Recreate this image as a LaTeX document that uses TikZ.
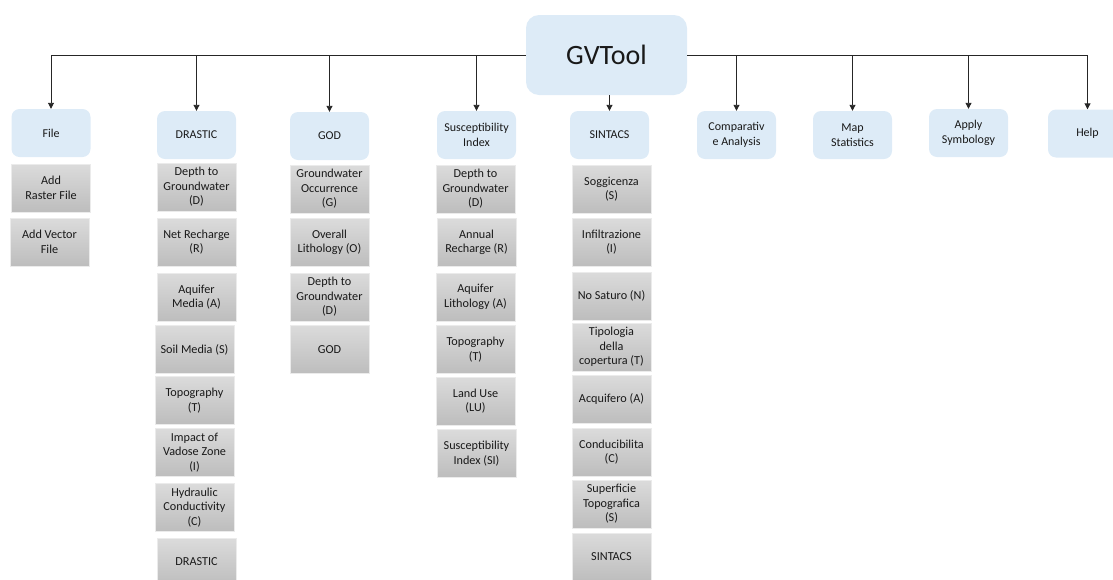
\documentclass[tikz,border=0pt]{standalone}
\usepackage{fontspec}
\setmainfont{Carlito}
\usepackage{tikz}
\usetikzlibrary{arrows.meta}

\definecolor{menublue}{HTML}{DDEBF7}
\definecolor{itemtop}{HTML}{DBDBDB}
\definecolor{itembot}{HTML}{BDBDBD}
\definecolor{linegray}{HTML}{262626}

\begin{document}
\begin{tikzpicture}[x=1pt,y=-1pt,
  menu/.style={fill=menublue,rounded corners=8pt,minimum width=79pt,minimum height=48pt,
    align=center,text=black!90,font=\fontsize{12}{14.5}\selectfont,inner sep=1pt},
  item/.style={top color=itemtop,bottom color=itembot,draw=black!8,line width=0.8pt,
    minimum width=79pt,minimum height=48pt,align=center,text=black!90,
    font=\fontsize{12.2}{14.6}\selectfont,inner sep=1pt},
  link/.style={draw=linegray,line width=0.9pt,-{Triangle[width=6pt,length=6pt]}}]

\useasboundingbox (0,0) rectangle (1113,579);
\clip (0,0) rectangle (1113,579);

% Root
\node[fill=menublue,rounded corners=13pt,minimum width=161pt,minimum height=80pt,
  font=\fontsize{28}{32}\selectfont,text=black!90] (gv) at (606.5,55) {GVTool};

% Menu entries
\node[menu] (file) at (51,133) {File};
\node[menu] (drastic) at (196.5,135) {DRASTIC};
\node[menu] (god) at (329.5,136) {GOD};
\node[menu] (susc) at (476.5,135) {Susceptibility\\Index};
\node[menu] (sintacs) at (609.5,135) {SINTACS};
\node[menu] (comp) at (736.5,135) {Comparativ\\e Analysis};
\node[menu] (mapstat) at (852.5,135) {Map\\Statistics};
\node[menu] (apply) at (968.5,133) {Apply\\Symbology};
\node[menu] (help) at (1087.5,133.5) {Help};

% Connectors
\draw[link] (gv.west) -| (file.north);
\draw[link] (gv.east) -| (help.north);
\foreach \m in {drastic,god,susc}
  \draw[link] (\m.north |- gv.west) -- (\m.north);
\foreach \m in {comp,mapstat,apply}
  \draw[link] (\m.north |- gv.east) -- (\m.north);
\draw[link] (sintacs.north |- gv.south) -- (sintacs.north);

% File
\node[item] (f1) at (51,188) {Add\\Raster File};
\node[item] (f2) at (49.5,242) {Add Vector\\File};

% DRASTIC
\node[item] (d1) at (196.5,187) {Depth to\\Groundwater\\(D)};
\node[item] (d2) at (196.5,242) {Net Recharge\\(R)};
\node[item] (d3) at (196.5,297) {Aquifer\\Media (A)};
\node[item] (d4) at (194.5,349.5) {Soil Media (S)};
\node[item] (d5) at (194.5,400.5) {Topography\\(T)};
\node[item] (d6) at (194.5,452.5) {Impact of\\Vadose Zone\\(I)};
\node[item] (d7) at (194.5,507.5) {Hydraulic\\Conductivity\\(C)};
\node[item] (d8) at (196.5,562) {DRASTIC};

% GOD
\node[item] (g1) at (329.5,189) {Groundwater\\Occurrence\\(G)};
\node[item] (g2) at (329.5,242.5) {Overall\\Lithology (O)};
\node[item] (g3) at (329.5,297) {Depth to\\Groundwater\\(D)};
\node[item] (g4) at (329.5,349.5) {GOD};

% Susceptibility Index
\node[item] (s1) at (475.5,189) {Depth to\\Groundwater\\(D)};
\node[item] (s2) at (476.5,242.5) {Annual\\Recharge (R)};
\node[item] (s3) at (475.5,297) {Aquifer\\Lithology (A)};
\node[item] (s4) at (475.5,349.5) {Topography\\(T)};
\node[item] (s5) at (475.5,401) {Land Use\\(LU)};
\node[item] (s6) at (476.5,453.5) {Susceptibility\\Index (SI)};

% SINTACS
\node[item] (t1) at (611.5,189) {Soggicenza\\(S)};
\node[item] (t2) at (611.5,242) {Infiltrazione\\(I)};
\node[item] (t3) at (611.5,296) {No Saturo (N)};
\node[item] (t4) at (611.5,347) {Tipologia\\della\\copertura (T)};
\node[item] (t5) at (611.5,399) {Acquifero (A)};
\node[item] (t6) at (611.5,452) {Conducibilita\\(C)};
\node[item] (t7) at (611.5,504) {Superficie\\Topografica\\(S)};
\node[item] (t8) at (611.5,557) {SINTACS};

\end{tikzpicture}
\end{document}
